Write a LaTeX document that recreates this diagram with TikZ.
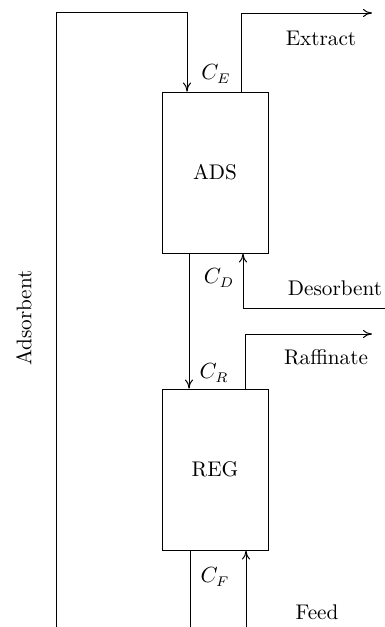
\documentclass[tikz,border=0pt]{standalone}
\usepackage{amsmath}
\usepackage{tikz}
\usetikzlibrary{arrows.meta, positioning}

\begin{document}
\begin{tikzpicture}[
    x=0.5pt, y=-0.5pt,
    >={To[length=4.5pt, width=4pt]},
    unit/.style={
        rectangle, draw=black, line width=0.5pt,
        minimum width=53pt, minimum height=80.5pt,
        inner sep=0pt, font=\fontsize{10.6}{12}\selectfont
    },
    pipe/.style={line width=0.5pt},
    streamlbl/.style={font=\fontsize{10.6}{12}\selectfont, inner sep=1pt},
    conclbl/.style={font=\fontsize{10.6}{12}\selectfont, inner sep=1pt},
]
\useasboundingbox (0,0) rectangle (385,627);

% ── Units ──
\node[unit] (ads) at (215,172.5) {ADS};
\node[unit, below=67.5pt of ads] (reg) {REG};

% ── Free ends ──
\coordinate (adsIn) at (56,627);
\coordinate (extractOut) at (372,13);
\coordinate (desIn) at (385,308);
\coordinate (rafOut) at (372,334);
\coordinate (feedIn) at (246,627);
\coordinate (regOut) at (190,627);

% ── Streams ──
\draw[pipe, ->] (adsIn) |- ([xshift=-14pt, yshift=39.5pt]ads.north) -- ([xshift=-14pt]ads.north);
\draw[pipe, ->] ([xshift=13pt]ads.north) |- (extractOut);
\draw[pipe, ->] (desIn) -| ([xshift=14pt]ads.south);
\draw[pipe, ->] ([xshift=-13pt]ads.south) -- ([xshift=-13pt]reg.north);
\draw[pipe, ->] ([xshift=15pt]reg.north) |- (rafOut);
\draw[pipe, ->] (feedIn) -- (feedIn |- reg.south);
\draw[pipe] (regOut |- reg.south) -- (regOut);

% ── Labels ──
\node[conclbl] (ce) at (216,74) {$C_E$};
\node[conclbl] (cd) at (219,278) {$C_D$};
\node[conclbl] (cr) at (214,373) {$C_R$};
\node[conclbl] (cf) at (215,577) {$C_F$};
\node[streamlbl] (extract) at (321,38) {Extract};
\node[streamlbl] (desorbent) at (335,288) {Desorbent};
\node[streamlbl] (raffinate) at (326,357) {Raffinate};
\node[streamlbl] (feed) at (317,612) {Feed};
\node[streamlbl, rotate=90] (adsorbent) at (24,318) {Adsorbent};

\end{tikzpicture}
\end{document}
